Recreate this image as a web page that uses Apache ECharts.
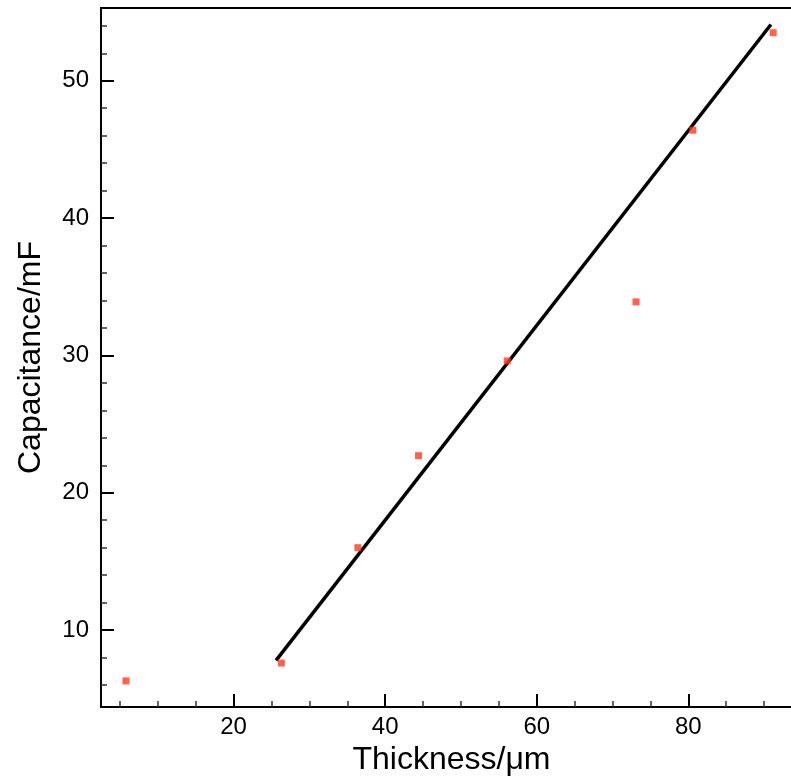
<!DOCTYPE html>
<html>
<head>
<meta charset="utf-8">
<script src="https://cdn.jsdelivr.net/npm/echarts@6/dist/echarts.min.js"></script>
<style>html,body{margin:0;padding:0;background:#fff;}#c{width:791px;height:781px;}</style>
</head>
<body>
<div id="c"></div>
<script>
// Data
const thickness = [5.8, 26.3, 36.4, 44.4, 56.1, 73.1, 80.6, 91.2];
const capacitance = [6.3, 7.6, 16.0, 22.7, 29.6, 33.9, 46.4, 53.5];
const fitX = [25.6, 90.9];
const fitY = [7.8, 54.1];
const xMajorTicks = [20, 40, 60, 80];
const xMinorTicks = [5, 10, 15, 25, 30, 35, 45, 50, 55, 65, 70, 75, 85, 90];
const yMajorTicks = [10, 20, 30, 40, 50];
const yMinorTicks = [6, 8, 12, 14, 16, 18, 22, 24, 26, 28, 32, 34, 36, 38, 42, 44, 46, 48, 52, 54];
const xRange = [2.5, 95];
const yRange = [4.4, 55.3];

const FONT = 'Liberation Sans, Arial, Helvetica, sans-serif';
const chart = echarts.init(document.getElementById('c'), null, {renderer: 'canvas'});

const baseAxis = (min, max) => ({
  type: 'value', min: min, max: max, splitLine: {show: false}, scale: true
});

chart.setOption({
  backgroundColor: '#fff',
  animation: false,
  grid: {left: 101, top: 8, bottom: 74, right: -11, containLabel: false, outerBoundsMode: 'none'},
  xAxis: [
    Object.assign(baseAxis(xRange[0], xRange[1]), {
      position: 'bottom',
      name: 'Thickness/μm', nameLocation: 'middle', nameGap: 37,
      nameTextStyle: {fontFamily: FONT, fontSize: 32, color: '#000'},
      axisLine: {show: true, lineStyle: {color: '#000', width: 2}},
      axisTick: {show: true, inside: true, length: 13, customValues: xMajorTicks, lineStyle: {color: '#000', width: 2}},
      axisLabel: {show: true, customValues: xMajorTicks, margin: 8, fontFamily: FONT, fontSize: 24, color: '#000'}
    }),
    Object.assign(baseAxis(xRange[0], xRange[1]), {
      position: 'bottom',
      axisLine: {show: false},
      axisTick: {show: true, inside: true, length: 6, customValues: xMinorTicks, lineStyle: {color: '#333', width: 1.5}},
      axisLabel: {show: false}
    }),
    Object.assign(baseAxis(xRange[0], xRange[1]), {
      position: 'top',
      axisLine: {show: true, lineStyle: {color: '#000', width: 2}},
      axisTick: {show: false},
      axisLabel: {show: false}
    })
  ],
  yAxis: [
    Object.assign(baseAxis(yRange[0], yRange[1]), {
      position: 'left',
      name: 'Capacitance/mF', nameLocation: 'middle', nameGap: 54, nameRotate: 90,
      nameTextStyle: {fontFamily: FONT, fontSize: 32, color: '#000'},
      axisLine: {show: true, lineStyle: {color: '#000', width: 2}},
      axisTick: {show: true, inside: true, length: 13, customValues: yMajorTicks, lineStyle: {color: '#000', width: 2}},
      axisLabel: {show: true, customValues: yMajorTicks, margin: 12, fontFamily: FONT, fontSize: 24, color: '#000'}
    }),
    Object.assign(baseAxis(yRange[0], yRange[1]), {
      position: 'left',
      axisLine: {show: false},
      axisTick: {show: true, inside: true, length: 6, customValues: yMinorTicks, lineStyle: {color: '#333', width: 1.5}},
      axisLabel: {show: false}
    })
  ],
  series: [
    {
      type: 'line', xAxisIndex: 0, yAxisIndex: 0,
      data: fitX.map((x, i) => [x, fitY[i]]),
      symbol: 'none', lineStyle: {color: '#000', width: 3.5}, z: 2
    },
    {
      type: 'scatter', xAxisIndex: 0, yAxisIndex: 0,
      data: thickness.map((x, i) => [x, capacitance[i]]),
      symbol: 'rect', symbolSize: 7,
      itemStyle: {color: '#ff3a1f'}, z: 3
    }
  ]
});
</script>
</body>
</html>
